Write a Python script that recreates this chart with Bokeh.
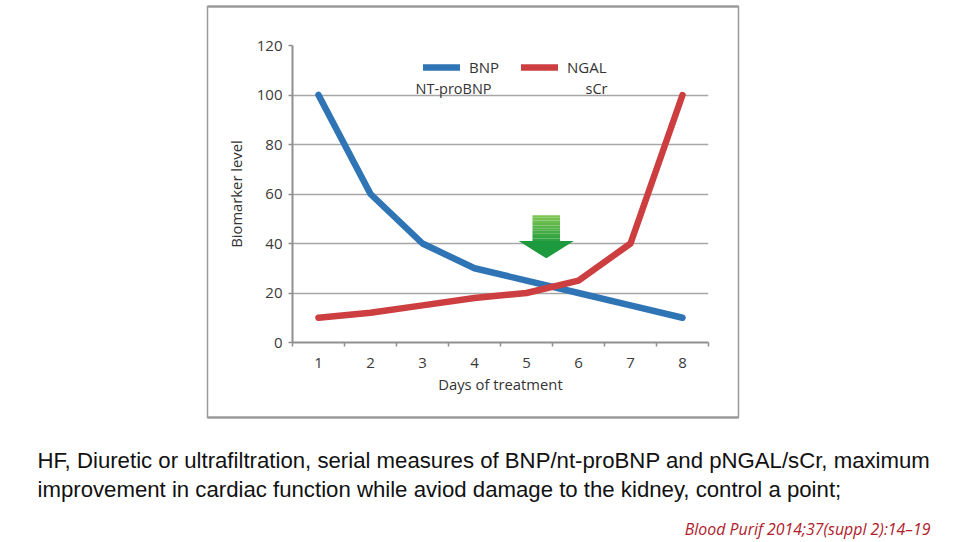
from bokeh.plotting import figure
from bokeh.models import FixedTicker, Legend, LegendItem, Label, Range1d
from bokeh.embed import file_html
from bokeh.resources import INLINE

# ---- data ----
days = [1, 2, 3, 4, 5, 6, 7, 8]
bnp = [100, 60, 40, 30, 25, 20, 15, 10]
ngal = [10, 12, 15, 18, 20, 25, 40, 100]
y_ticks = [0, 20, 40, 60, 80, 100, 120]
x_label = "Days of treatment"
y_label = "Biomarker level"
legend_names = ["BNP", "NGAL"]
legend_subs = ["NT-proBNP", "sCr"]
caption1 = "HF, Diuretic or ultrafiltration, serial measures of BNP/nt-proBNP and pNGAL/sCr, maximum"
caption2 = "improvement in cardiac function while aviod damage to the kidney, control a point;"
citation = "Blood Purif 2014;37(suppl 2):14\u201319"

# arrow marker (data coordinates)
arrow_cx = 5.38
arrow_half_shaft = 0.265
arrow_half_head = 0.53
arrow_top = 51.4
arrow_head_y = 41.0
arrow_tip = 34.0

FONT = "Open Sans"
GRID = "#a6a6a6"
TXT = "#3a3a3a"
BOX = "#9a9a9a"

p = figure(width=959, height=542, x_range=Range1d(0.5, 8.5), y_range=Range1d(0, 120),
           output_backend="svg", toolbar_location=None,
           min_border_left=292, min_border_right=251, min_border_top=45, min_border_bottom=200)
p.outline_line_color = None
p.background_fill_color = "white"
p.border_fill_color = "white"

# axes
p.xaxis.ticker = FixedTicker(ticks=days, minor_ticks=[d - 0.5 for d in days] + [days[-1] + 0.5])
p.yaxis.ticker = FixedTicker(ticks=y_ticks, minor_ticks=[])
for ax in (p.xaxis, p.yaxis):
    ax.axis_line_color = "#8f8f8f"
    ax.axis_line_width = 2
    ax.major_tick_line_color = "#8f8f8f"
    ax.minor_tick_line_color = "#8f8f8f"
    ax.major_tick_line_width = 1.5
    ax.minor_tick_line_width = 1.5
    ax.major_tick_in = 0
    ax.minor_tick_in = 0
    ax.major_label_text_font = FONT
    ax.major_label_text_font_size = "15px"
    ax.major_label_text_color = TXT
    ax.axis_label_text_font = FONT
    ax.axis_label_text_font_size = "14.8px"
    ax.axis_label_text_font_style = "normal"
    ax.axis_label_text_color = "#333333"
p.xaxis.major_tick_out = 0
p.xaxis.minor_tick_out = 4
p.xaxis.major_label_standoff = 11
p.xaxis.axis_label = x_label
p.xaxis.axis_label_standoff = 3
p.yaxis.major_tick_out = 4
p.yaxis.minor_tick_out = 0
p.yaxis.major_label_standoff = 6
p.yaxis.axis_label = y_label
p.yaxis.axis_label_standoff = 8

p.xgrid.grid_line_color = None
p.ygrid.grid_line_color = GRID
p.ygrid.grid_line_width = 1.5

# arrow (gradient shaft + head)
n = 10
shades = ["#7cc552", "#73c150", "#6abd4e", "#61b94c", "#58b54a", "#4fb148",
          "#46ad46", "#3da944", "#34a542", "#2ba140"]
step = (arrow_top - arrow_head_y) / n
p.quad(left=[arrow_cx - arrow_half_shaft] * n, right=[arrow_cx + arrow_half_shaft] * n,
       top=[arrow_top - i * step for i in range(n)],
       bottom=[arrow_top - (i + 1) * step for i in range(n)],
       fill_color=shades, line_color=None)
p.patch([arrow_cx - arrow_half_head, arrow_cx + arrow_half_head, arrow_cx],
        [arrow_head_y, arrow_head_y, arrow_tip], fill_color="#1e9a3e", line_color=None)

r_bnp = p.line(days, bnp, line_color="#2f74b5", line_width=6.5, line_join="round", line_cap="round")
r_ngal = p.line(days, ngal, line_color="#cc3e40", line_width=6.5, line_join="round", line_cap="round")

legend = Legend(items=[LegendItem(label=legend_names[0], renderers=[r_bnp]),
                       LegendItem(label=legend_names[1], renderers=[r_ngal])],
                orientation="horizontal", location=(131, 265),
                background_fill_alpha=0, border_line_color=None,
                padding=0, margin=0, spacing=22, glyph_width=37, glyph_height=16,
                label_height=16, label_standoff=9,
                label_text_font=FONT, label_text_font_size="15px", label_text_color="#333333")
p.add_layout(legend, "center")

p.add_layout(Label(x=415, y=88, x_units="canvas", y_units="canvas", text=legend_subs[0],
                   text_font=FONT, text_font_size="14.5px", text_color="#333333",
                   text_baseline="middle"), "below")
p.add_layout(Label(x=585, y=88, x_units="canvas", y_units="canvas", text=legend_subs[1],
                   text_font=FONT, text_font_size="14.5px", text_color="#333333",
                   text_baseline="middle"), "below")

# surrounding box: four thin edge strips
def edge(cx, cy, px, py):
    return Label(x=cx, y=cy, x_units="canvas", y_units="canvas", text=" ",
                 text_font_size="1px", text_align="center", text_baseline="middle",
                 padding=(px, py), border_line_color=BOX, border_line_width=1.2,
                 background_fill_color=BOX)

p.add_layout(edge(472.5, 6, 265, 0), "above")
p.add_layout(edge(472.5, 417, 265, 0), "below")
p.add_layout(edge(207, 211.5, 0, 205), "left")
p.add_layout(edge(738, 211.5, 0, 205), "right")

# caption text
p.add_layout(Label(x=37, y=460, x_units="canvas", y_units="canvas", text=caption1,
                   text_font="Liberation Sans", text_font_size="22.2px", text_color="#111111",
                   text_baseline="alphabetic"), "below")
p.add_layout(Label(x=37, y=489, x_units="canvas", y_units="canvas", text=caption2,
                   text_font="Liberation Sans", text_font_size="22.2px", text_color="#111111",
                   text_baseline="alphabetic"), "below")
p.add_layout(Label(x=930, y=528, x_units="canvas", y_units="canvas", text=citation,
                   text_font="Open Sans", text_font_size="15.9px", text_font_style="italic",
                   text_color="#b0202a", text_align="right", text_baseline="alphabetic"), "below")

open("out.html", "w").write(file_html(p, INLINE))
